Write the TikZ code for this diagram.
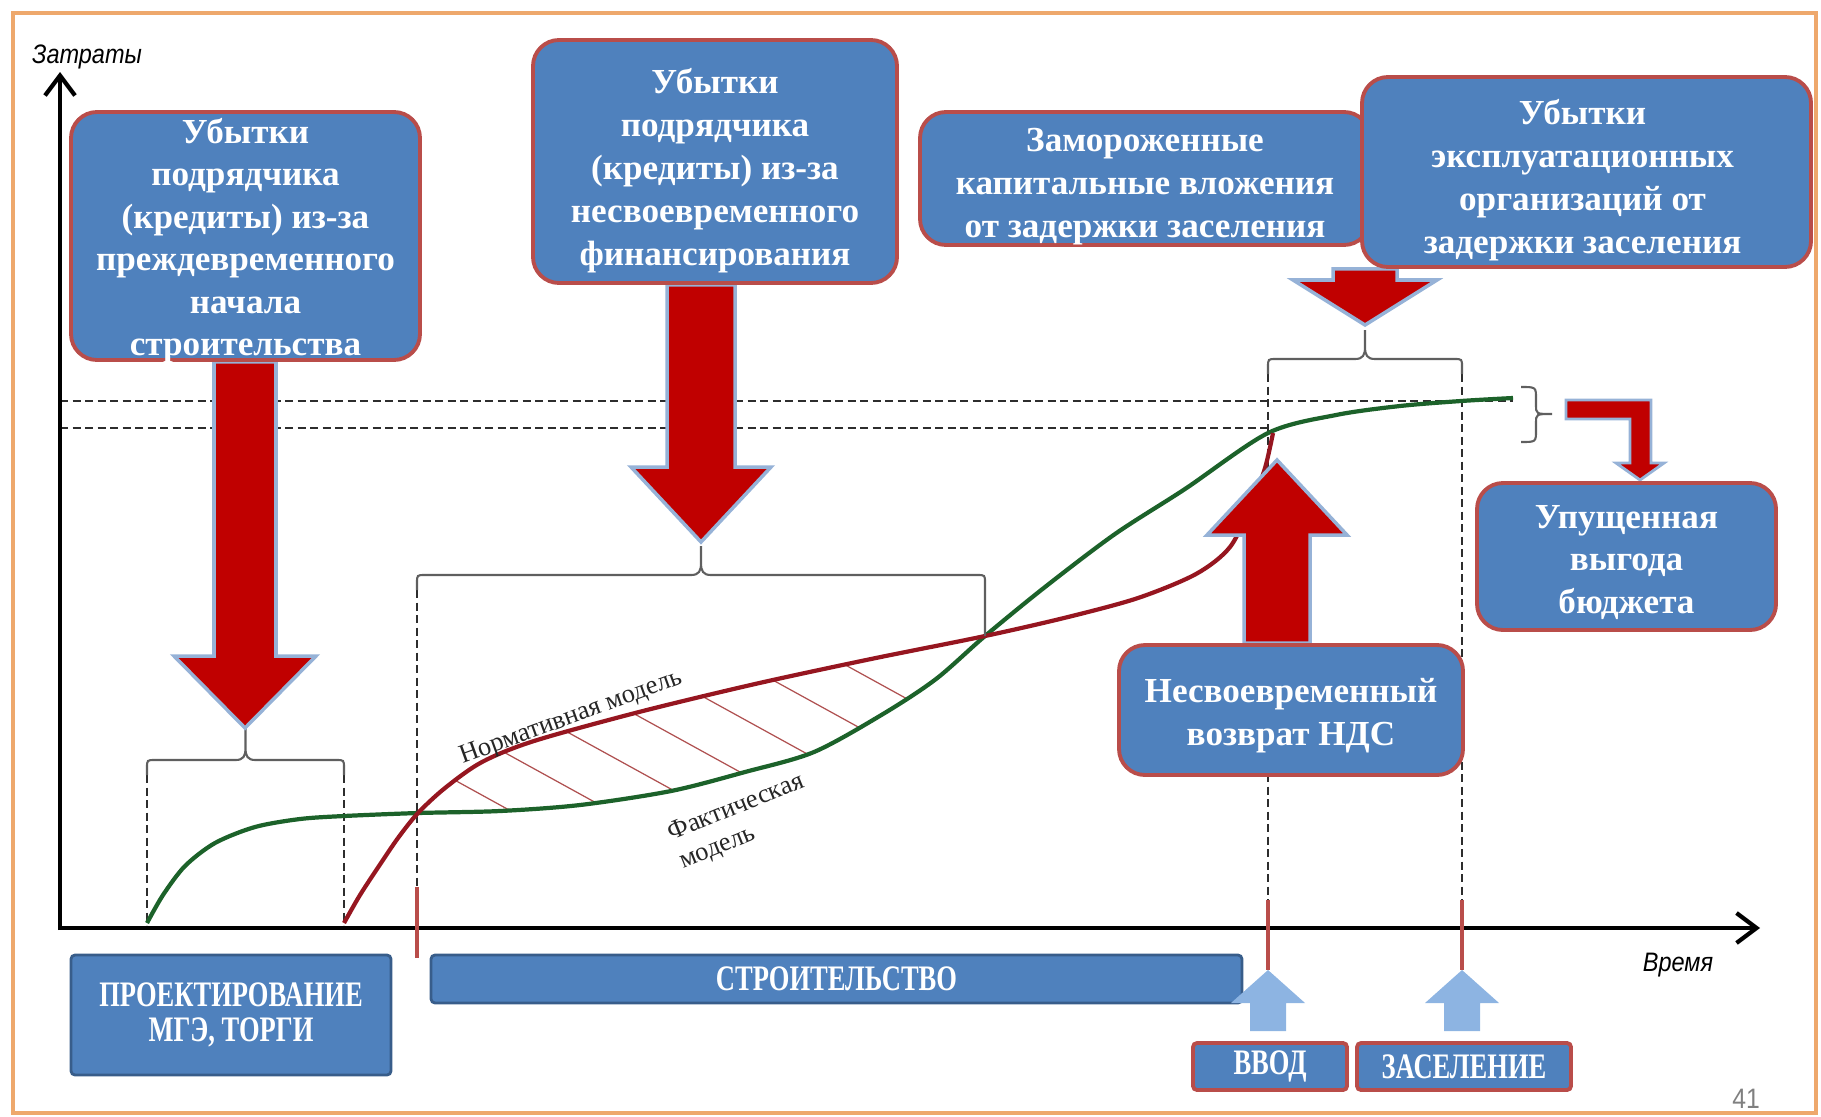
\documentclass[tikz,border=0pt]{standalone}
\usepackage{fontspec}
\setmainfont{Liberation Serif}
\newfontfamily\stagefont[FakeStretch=0.74]{Liberation Serif}
\newfontfamily\axisfont[FakeStretch=0.88]{Liberation Sans}
\usetikzlibrary{arrows.meta,calc}

\definecolor{boxblue}{RGB}{79,129,189}
\definecolor{boxedge}{RGB}{185,77,74}
\definecolor{stageedge}{RGB}{56,93,138}
\definecolor{arrowred}{RGB}{192,0,0}
\definecolor{arrowedge}{RGB}{150,178,215}
\definecolor{lightarrow}{RGB}{141,180,226}
\definecolor{factgreen}{RGB}{28,98,42}
\definecolor{normred}{RGB}{150,22,32}
\definecolor{hatchred}{RGB}{175,80,80}
\definecolor{frameorange}{RGB}{238,168,108}
\definecolor{guidegray}{RGB}{45,45,45}
\definecolor{bracegray}{RGB}{95,95,95}

\pgfdeclarelayer{top}
\pgfsetlayers{main,top}

\tikzset{%
  lossbox/.style={
    draw=boxedge,
    fill=boxblue,
    line width=1.1pt,
    rounded corners=2.6mm,
    inner sep=0pt
  },
  loss text/.style={
    inner sep=0pt,
    align=center,
    text=white,
    font=\bfseries\fontsize{10}{12.2}\selectfont
  },
  stagebox/.style={
    draw=stageedge,
    fill=boxblue,
    line width=0.8pt,
    rounded corners=0.4mm,
    inner sep=0pt,
    align=center,
    text=white,
    font=\stagefont\bfseries\fontsize{10.2}{10}\selectfont
  },
  milestonebox/.style={stagebox, draw=boxedge, line width=1.1pt},
  fat arrow/.style={fill=arrowred, draw=arrowedge, line width=1pt},
  thin arrow/.style={fill=lightarrow},
  guide/.style={draw=guidegray, line width=0.5pt, dash pattern=on 0.8mm off 0.45mm},
  brace line/.style={draw=bracegray, line width=0.6pt},
  hatch/.style={draw=hatchred, line width=0.35pt},
  fact curve/.style={draw=factgreen, line width=1.2pt},
  norm curve/.style={draw=normred, line width=1.2pt},
  axisline/.style={draw=black, line width=1.2pt},
  tickline/.style={draw=boxedge, line width=0.9pt},
  frameline/.style={draw=frameorange, line width=1.1pt},
  axis label/.style={font=\axisfont\itshape\fontsize{7.6}{9}\selectfont},
  curve label/.style={font=\fontsize{7.5}{8.6}\selectfont, text=black!85},
}

\begin{document}
\begin{tikzpicture}[x=0.1mm, y=-0.1mm, >={Straight Barb[length=2mm,width=3mm]}]
\useasboundingbox (0,0) rectangle (1821,1116);
\draw[frameline] (13,13) rectangle (1816,1113);

% points the arrows end at
\coordinate (tipA) at (245,728);
\coordinate (tipB) at (701,542);
\coordinate (tipC) at (1365,325);
\coordinate (tipF) at (1277,460);
\coordinate (tipE) at (1640,480);
\coordinate (braceE) at (1552,414);
\coordinate (markV) at (1268,970);
\coordinate (markZ) at (1462,970);

% loss boxes
\begin{pgfonlayer}{top}
\node [lossbox, minimum width=34.9mm, minimum height=24.8mm] (boxA) at (245.5,236) {};
\node [loss text, font=\bfseries\fontsize{10}{12.1}\selectfont] (textA) at ([yshift=-0.45mm]boxA.center)
  {Убытки\\подрядчика\\(кредиты) из-за\\преждевременного\\начала\\строительства};
\node [lossbox, minimum width=36.4mm, minimum height=24.3mm] (boxB) at (715,161.5) {};
\node [loss text] (textB) at ([yshift=-0.9mm]boxB.center)
  {Убытки\\подрядчика\\(кредиты) из-за\\несвоевременного\\финансирования};
\node [lossbox, minimum width=45mm, minimum height=13.3mm] (boxC) at (1145,178.5) {};
\node [loss text] (textC) at ([yshift=-0.8mm]boxC.center)
  {Замороженные\\капитальные вложения\\от задержки заселения};
\node [lossbox, minimum width=44.9mm, minimum height=19mm] (boxD) at (1586.5,172) {};
\node [loss text] (textD) at ([xshift=-0.4mm,yshift=-0.8mm]boxD.center)
  {Убытки\\эксплуатационных\\организаций от\\задержки заселения};
\node [lossbox, minimum width=29.9mm, minimum height=14.7mm] (boxE) at (1626.5,556.5) {};
\node [loss text] (textE) at ([yshift=-0.6mm]boxE.center)
  {Упущенная\\выгода\\бюджета};
\node [lossbox, minimum width=34.4mm, minimum height=13mm] (boxF) at (1291,710) {};
\node [loss text] (textF) at ([yshift=-0.6mm]boxF.center)
  {Несвоевременный\\возврат НДС};
\end{pgfonlayer}

% dashed guides
\draw [guide] (60,401) -- (1513,401);
\draw [guide] (60,428) -- (1268,428);
\foreach \x/\ya/\yb in {147/775/925, 344/775/925, 417/590/887, 1268/374/900, 1462/374/900}
  \draw [guide] (\x,\ya) -- (\x,\yb);

% hatched gap between the models
\begin{scope}
  \clip plot [smooth] coordinates {(418,813) (445,788) (482,762) (534,741) (639,712) (755,684) (871,659) (985,636)}
    -- plot [smooth] coordinates {(985,636) (936,679) (883,714) (814,752) (745,772) (671,791) (580,805) (500,811) (418,813)}
    -- cycle;
  \foreach \c in {530,475,...,200}
    \draw [hatch] (300,{0.55*300+\c}) -- (1100,{0.55*1100+\c});
\end{scope}

% curves
\draw [fact curve] plot [smooth] coordinates {(147,923) (163,895) (185,866) (215,843) (255,827) (300,819)
  (344,816) (418,813) (500,811) (580,805) (671,791) (745,772) (814,752) (883,714) (936,679) (985,636)
  (1045,587) (1115,534) (1185,489) (1268,433) (1336,415) (1400,406) (1461,401) (1513,398)};
\draw [norm curve] plot [smooth] coordinates {(344,923) (360,895) (379,866) (398,838) (418,813) (445,788)
  (482,762) (534,741) (639,712) (755,684) (871,659) (985,636) (1068,617) (1138,598) (1196,574)
  (1230,547) (1252,503) (1265,468) (1273,433)};

% axes
\draw [axisline, ->] (60,930) -- (60,72);
\draw [axisline, ->] (58,928) -- (1760,928);
\node [axis label] (costs) at (87,57) {Затраты};
\node [axis label] (time) at (1678,965) {Время};

% braces
\foreach \xa/\xb/\y/\tip/\la/\lb in {147/344/760/728/15/15, 417/985/575/546/15/61, 1268/1462/359/330/15/15}
{
  \pgfmathsetmacro\xm{(\xa+\xb)/2}
  \draw [brace line] (\xa,{\y+\la}) -- (\xa,{\y+8}) .. controls (\xa,\y) .. ({\xa+8},\y)
    -- ({\xm-10},\y) .. controls ({\xm-2},\y) and (\xm,{\y-4}) .. (\xm,{\y-12}) -- (\xm,\tip)
    -- (\xm,{\y-12}) .. controls (\xm,{\y-4}) and ({\xm+2},\y) .. ({\xm+10},\y)
    -- ({\xb-8},\y) .. controls (\xb,\y) .. (\xb,{\y+8}) -- (\xb,{\y+\lb});
}
\draw [brace line] (1521,387) .. controls (1536,387) .. (1536,399) -- (1536,405)
  .. controls (1536,414) .. (braceE) .. controls (1536,414) .. (1536,423) -- (1536,430)
  .. controls (1536,442) .. (1521,442);

% red arrows
\foreach \from/\to/\hl/\sw/\hw in {boxA.south/tipA/72/31/71, boxB.south/tipB/75/34/70,
                                  boxD.south/tipC/45/32/72, boxF.north/tipF/-75/33/70}
  \draw [fat arrow] ($(\from -| \to)+(-\sw,0)$) -- ($(\to)+(-\sw,-\hl)$) -- ($(\to)+(-\hw,-\hl)$)
    -- (\to) -- ($(\to)+(\hw,-\hl)$) -- ($(\to)+(\sw,-\hl)$) -- ($(\from -| \to)+(\sw,0)$) -- cycle;
\draw [fat arrow, line width=0.8pt] ($(braceE)+(14,-14)$) -- (1651,400) -- (1651,463) -- (1664,463)
  -- (tipE) -- (1616,463) -- (1630,463) -- (1630,419) -- ($(braceE)+(14,5)$) -- cycle;

% time line
\foreach \x/\ya/\yb in {417/887/958, 1268/900/970, 1462/900/970}
  \draw [tickline] (\x,\ya) -- (\x,\yb);

\node [stagebox, minimum width=32mm, minimum height=12mm] (design) at (231,1015)
  {ПРОЕКТИРОВАНИЕ\\МГЭ, ТОРГИ};
\node [stagebox, minimum width=81.1mm, minimum height=4.8mm] (build) at (836.5,979) {СТРОИТЕЛЬСТВО};
\node [milestonebox, minimum width=15.4mm, minimum height=4.7mm] (boxV) at (1270,1066.5) {ВВОД};
\node [milestonebox, minimum width=21.4mm, minimum height=4.7mm] (boxZ) at (1464,1066.5) {ЗАСЕЛЕНИЕ};

\foreach \from/\to in {boxV.north/markV, boxZ.north/markZ}
  \fill [thin arrow] ($(\from -| \to)+(-18,-10)$) -- ($(\to)+(-18,33)$) -- ($(\to)+(-37,33)$) -- (\to)
    -- ($(\to)+(37,33)$) -- ($(\to)+(18,33)$) -- ($(\from -| \to)+(18,-10)$) -- cycle;

% model labels
\node [curve label, rotate=20] (normlabel) at (571,718) {Нормативная модель};
\node [curve label, rotate=22, align=left] (factlabel) at (742,822) {Фактическая\\модель};

\node [font=\axisfont\fontsize{8}{9}\selectfont, text=gray] (page) at (1746,1099) {41};

\end{tikzpicture}
\end{document}
